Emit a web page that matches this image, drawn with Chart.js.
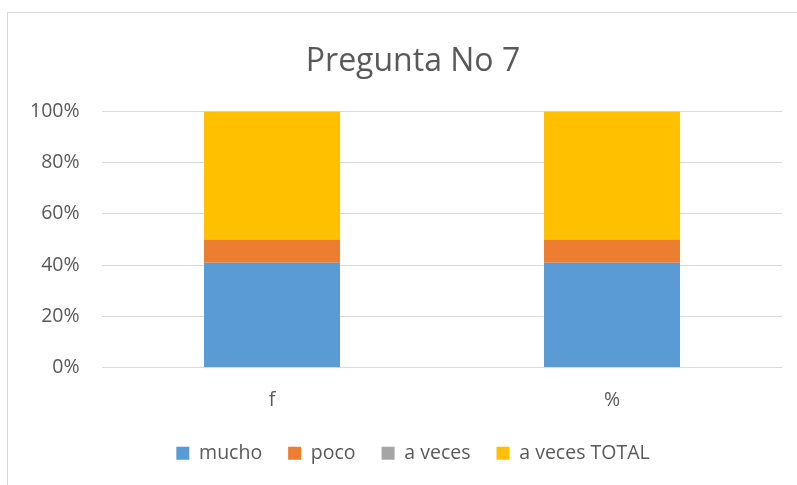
<!DOCTYPE html>
<html>
<head>
<meta charset="utf-8">
<script src="https://cdn.jsdelivr.net/npm/chart.js@4"></script>
<style>
  html, body { margin: 0; padding: 0; background: #fff; overflow: hidden; }
  #wrap { position: relative; width: 797px; height: 485px; overflow: hidden; }
  #frame { position: absolute; left: 7px; top: 12px; width: 900px; height: 600px; border: 1px solid #d9d9d9; }
  canvas { position: absolute; left: 0; top: 0; }
</style>
</head>
<body>
<div id="wrap">
  <div id="frame"></div>
  <canvas id="barChart" width="797" height="485"></canvas>
</div>
<script>
const categories = ["f", "%"];

const mucho = [9, 81.8];
const poco = [2, 18.2];
const aVeces = [0, 0];
const aVecesTotal = [11, 100];

const yTicks = [0, 20, 40, 60, 80, 100];

// 100% stacked: each column is shown as a share of its own total
const totals = categories.map((c, i) => mucho[i] + poco[i] + aVeces[i] + aVecesTotal[i]);
const pct = (arr) => arr.map((v, i) => (v / totals[i]) * 100);

const textColor = "#595959";
const fontFamily = "Open Sans";

const data = {
  labels: categories,
  datasets: [
    { label: "mucho", backgroundColor: "#5b9bd5", data: pct(mucho) },
    { label: "poco", backgroundColor: "#ed7d31", data: pct(poco) },
    { label: "a veces", backgroundColor: "#a5a5a5", data: pct(aVeces) },
    { label: "a veces TOTAL", backgroundColor: "#ffc000", data: pct(aVecesTotal) },
  ],
};

const config_bar = {
  type: "bar",
  data: data,
  options: {
    responsive: false,
    animation: false,
    categoryPercentage: 1,
    barPercentage: 0.4,
    layout: { padding: { left: 44, right: 15, top: 43, bottom: 12 } },
    scales: {
      x: {
        stacked: true,
        grid: { display: false },
        border: { display: false },
        afterFit: (axis) => { axis.height = 50; },
        ticks: { color: textColor, font: { family: fontFamily, size: 19.5 }, padding: 13 },
      },
      y: {
        stacked: true,
        min: 0,
        max: 100,
        afterBuildTicks: (axis) => { axis.ticks = yTicks.map((v) => ({ value: v })); },
        afterFit: (axis) => { axis.width = 58; },
        grid: { color: "#d9d9d9", lineWidth: 1, drawTicks: false },
        border: { display: false },
        ticks: {
          color: textColor,
          font: { family: fontFamily, size: 19.5 },
          mirror: true,
          crossAlign: "far",
          padding: -72,
          callback: (v) => v + "%",
        },
      },
    },
    plugins: {
      title: {
        display: true,
        text: "Pregunta No 7",
        color: textColor,
        font: { family: fontFamily, size: 32, weight: "normal" },
        padding: { top: 0, bottom: 30 },
      },
      legend: {
        display: true,
        position: "bottom",
        labels: {
          color: textColor,
          font: { family: fontFamily, size: 19.5 },
          boxWidth: 13,
          boxHeight: 13,
          padding: 26,
        },
      },
      tooltip: { enabled: false },
    },
  },
};

const myBarChart = new Chart(document.getElementById("barChart"), config_bar);
</script>
</body>
</html>
